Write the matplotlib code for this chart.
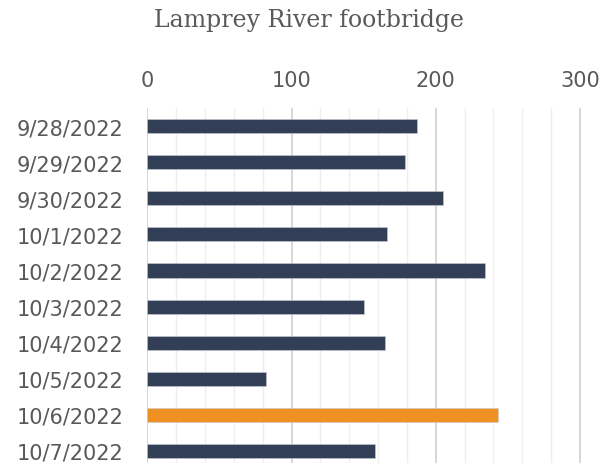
import numpy as np
import matplotlib
matplotlib.use('Agg')
from matplotlib import pyplot as plt
from matplotlib.ticker import MultipleLocator

#%% data
dates = ['9/28/2022', '9/29/2022', '9/30/2022', '10/1/2022', '10/2/2022',
         '10/3/2022', '10/4/2022', '10/5/2022', '10/6/2022', '10/7/2022']
counts = [187, 179, 205, 166, 234, 150, 165, 82, 243, 158]
highlight = '10/6/2022'

navy = '#323f56'
orange = '#ee9122'
grey_txt = '#595959'

#%% set up figure
W, H = 601, 464
fig = plt.figure(figsize=(W/100, H/100), dpi=100)

px = 432.7/300  # pixels per unit
left = 147.3/W
width = 301*px/W
top = 109/H
ax = plt.axes([left, 0, width, 1 - top])

y = np.arange(len(dates))
colors = [orange if d == highlight else navy for d in dates]
ax.barh(y, counts, height=0.39, color=colors, edgecolor='#c8ccd4', linewidth=0.4, zorder=3)

ax.set_xlim([0, 301])
ax.set_ylim([len(dates) - 1 + (H - 452)/36.1, -0.5])
ax.set_yticks(y)
ax.set_yticklabels(dates)
ax.xaxis.set_major_locator(MultipleLocator(100))
ax.xaxis.set_minor_locator(MultipleLocator(20))
ax.xaxis.tick_top()

ax.grid(axis='x', which='major', color='#d4d4d4', linewidth=1.3, zorder=0)
ax.grid(axis='x', which='minor', color='#eeeeee', linewidth=1.0, zorder=0)
for s in ax.spines.values():
    s.set_visible(False)
ax.tick_params(axis='both', which='both', length=0, labelsize=15, colors=grey_txt)
ax.tick_params(axis='y', pad=17)
ax.tick_params(axis='x', pad=13)

fig.text(309/W, 1 - 20/H, 'Lamprey River footbridge', ha='center', va='center',
         family=['DejaVu Serif'], fontsize=17, color=grey_txt)

plt.savefig('out.png', dpi=100)
